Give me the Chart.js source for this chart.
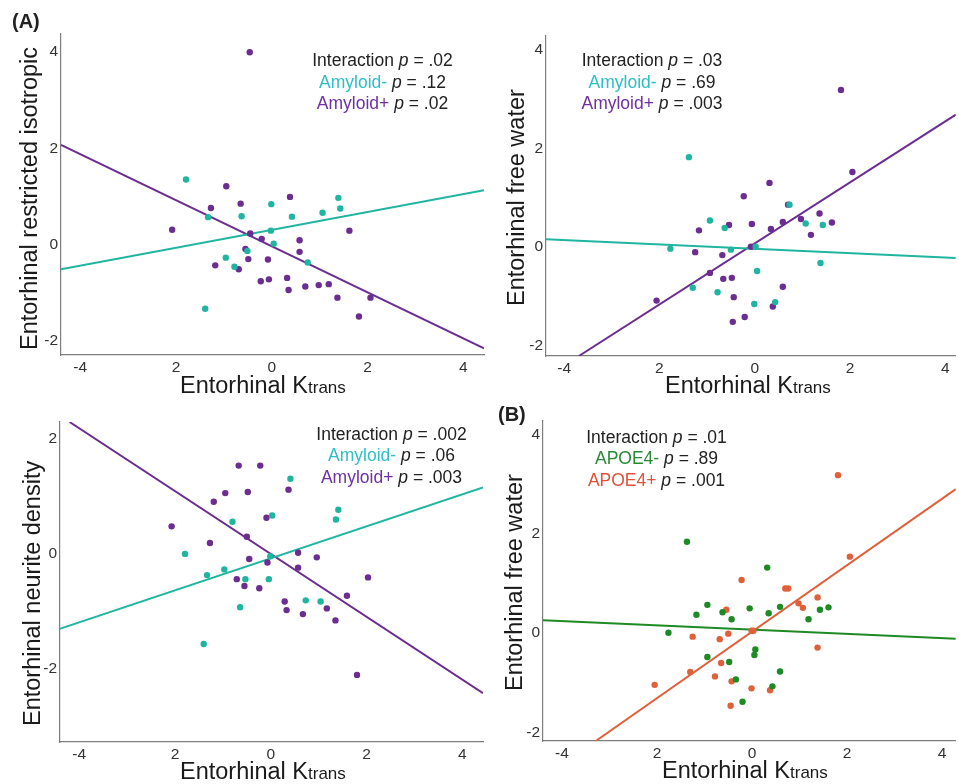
<!DOCTYPE html>
<html>
<head>
<meta charset="utf-8">
<script src="https://cdn.jsdelivr.net/npm/chart.js@4.4.1/dist/chart.umd.min.js"></script>
<style>
  html, body { margin: 0; padding: 0; }
  body { width: 959px; height: 784px; position: relative; background: #fff; overflow: hidden;
         font-family: "Liberation Sans", Arial, sans-serif; color: #222; }
  canvas { position: absolute; }
  .ann { position: absolute; transform: translateX(-50%); text-align: center; white-space: nowrap;
         font-size: 17.5px; line-height: 21.5px; color: #222; }
  .ann i { font-style: italic; }
  .ytitle { position: absolute; transform: rotate(-90deg); transform-origin: 0 0; white-space: nowrap;
            font-size: 23.5px; line-height: 23.5px; color: #1a1a1a; }
  .xtitle { position: absolute; white-space: nowrap; font-size: 23.5px; line-height: 23.5px; color: #1a1a1a; }
  .xtitle small { font-size: 17px; }
  .tag { position: absolute; font-weight: bold; font-size: 20px; line-height: 20px; color: #222; }
</style>
</head>
<body>
<div class="tag" style="left:12px;top:11px">(A)</div>
<div class="tag" style="left:498px;top:404px">(B)</div>

<div class="ann" style="left:382.5px;top:50px">
  <div>Interaction <i>p</i> = .02</div>
  <div><span style="color:#2ebec6">Amyloid-</span> <i>p</i> = .12</div>
  <div><span style="color:#7030a0">Amyloid+</span> <i>p</i> = .02</div>
</div>
<div class="ann" style="left:652px;top:50px">
  <div>Interaction <i>p</i> = .03</div>
  <div><span style="color:#2ebec6">Amyloid-</span> <i>p</i> = .69</div>
  <div><span style="color:#7030a0">Amyloid+</span> <i>p</i> = .003</div>
</div>
<div class="ann" style="left:391.5px;top:423.5px">
  <div>Interaction <i>p</i> = .002</div>
  <div><span style="color:#2ebec6">Amyloid-</span> <i>p</i> = .06</div>
  <div><span style="color:#7030a0">Amyloid+</span> <i>p</i> = .003</div>
</div>
<div class="ann" style="left:656.5px;top:426.5px">
  <div>Interaction <i>p</i> = .01</div>
  <div><span style="color:#2a8a34">APOE4-</span> <i>p</i> = .89</div>
  <div><span style="color:#e0523a">APOE4+</span> <i>p</i> = .001</div>
</div>

<script>
// ---------- shared tick data ----------
const xTickValues = [-4, -2, 0, 2, 4];
const xTickLabels = ['-4', '2', '0', '2', '4'];
const yTicksFull = [-2, 0, 2, 4];
const yTicksNeurite = [-2, 0, 2];

// ---------- Panel A1: restricted isotropic ----------
const isoAmyNeg = [[-1.79,1.35],[1.39,0.97],[-0.01,0.84],[1.06,0.66],[1.43,0.75],[-1.33,0.57],[-0.63,0.59],
  [0.42,0.58],[-0.02,0.29],[0.04,0.02],[-0.51,-0.13],[-0.96,-0.27],[-0.78,-0.46],[0.75,-0.37],[-1.39,-1.33]];
const isoAmyPos = [[-0.46,3.99],[-0.95,1.21],[-1.27,0.76],[-0.65,0.85],[0.38,0.99],[-2.08,0.31],[1.62,0.29],
  [-0.45,0.23],[-0.21,0.12],[0.58,0.09],[-0.55,-0.09],[0.58,-0.15],[-0.49,-0.30],[-0.08,-0.31],[-1.18,-0.43],
  [-0.69,-0.51],[-0.23,-0.76],[-0.06,-0.72],[0.32,-0.69],[0.35,-0.94],[0.70,-0.87],[0.98,-0.84],[1.19,-0.82],
  [1.37,-1.10],[2.06,-1.10],[1.82,-1.49]];
const isoFitNeg = [[-4.4,-0.51],[4.43,1.13]];
const isoFitPos = [[-4.4,2.07],[4.43,-2.15]];

// ---------- Panel A2: free water by amyloid ----------
const fwAmyNeg = [[-1.38,1.82],[-0.94,0.54],[-0.63,0.39],[0.73,0.86],[1.07,0.48],[1.43,0.45],[-1.77,-0.03],
  [-0.50,-0.05],[0.02,0.01],[1.38,-0.32],[0.05,-0.48],[-1.30,-0.82],[-0.78,-0.91],[-0.01,-1.15],[0.43,-1.11]];
const fwAmyPos = [[1.81,3.18],[2.05,1.52],[0.31,1.30],[-0.23,1.03],[0.70,0.86],[1.36,0.68],[0.97,0.57],
  [0.59,0.51],[1.62,0.50],[-0.54,0.45],[-0.06,0.47],[0.34,0.37],[-1.17,0.34],[1.18,0.25],[-0.08,0.01],
  [-1.25,-0.10],[-0.68,-0.16],[-0.94,-0.52],[-0.66,-0.64],[-0.48,-0.62],[0.59,-0.80],[-0.44,-1.01],
  [-2.06,-1.08],[0.38,-1.20],[-0.21,-1.41],[-0.46,-1.51]];
const fwAmyFitNeg = [[-4.38,0.16],[4.22,-0.22]];
const fwAmyFitPos = [[-3.69,-2.2],[4.22,2.68]];

// ---------- Panel A3: neurite density ----------
const ndAmyNeg = [[0.41,1.31],[1.41,0.77],[1.36,0.60],[0.03,0.67],[-0.80,0.56],[-1.79,0.0],[-0.01,-0.04],
  [-1.33,-0.37],[-0.97,-0.27],[-0.53,-0.44],[-0.04,-0.44],[0.73,-0.81],[1.04,-0.83],[-0.64,-0.93],[-1.40,-1.57]];
const ndAmyPos = [[-0.67,1.54],[-0.22,1.54],[0.37,1.12],[-0.48,1.08],[-0.95,1.06],[-1.19,0.91],[-0.09,0.63],
  [-2.07,0.48],[-0.50,0.30],[-1.27,0.19],[0.57,0.02],[0.96,-0.06],[-0.45,-0.09],[-0.07,-0.15],[0.57,-0.24],
  [2.03,-0.41],[-0.71,-0.44],[-0.55,-0.56],[-0.24,-0.60],[1.59,-0.73],[0.29,-0.83],[0.33,-0.98],[1.17,-0.95],
  [0.67,-1.05],[1.35,-1.16],[1.80,-2.11]];
const ndFitNeg = [[-4.45,-1.32],[4.43,1.16]];
const ndFitPos = [[-4.2,2.30],[4.43,-2.43]];

// ---------- Panel B: free water by APOE4 ----------
const fwApoeNeg = [[-1.37,1.84],[0.32,1.32],[-0.94,0.57],[-1.17,0.37],[-0.62,0.42],[-0.05,0.50],[0.59,0.53],
  [0.35,0.40],[-0.43,0.28],[1.19,0.28],[1.43,0.47],[1.61,0.52],[-1.76,0.01],[0.07,-0.33],[0.05,-0.44],
  [-0.94,-0.48],[-0.48,-0.58],[0.59,-0.77],[-0.34,-0.93],[0.43,-1.07],[-0.20,-1.38]];
const fwApoePos = [[1.81,3.18],[2.06,1.54],[-0.22,1.07],[0.70,0.90],[0.76,0.90],[1.38,0.72],[0.98,0.60],
  [1.07,0.51],[-0.54,0.47],[-0.50,-0.01],[-0.01,0.05],[0.03,0.05],[-1.25,-0.07],[-0.68,-0.12],[1.38,-0.29],
  [-0.65,-0.60],[-1.30,-0.78],[-0.78,-0.87],[-0.43,-0.97],[-2.05,-1.04],[-0.01,-1.11],[0.38,-1.15],[-0.45,-1.46]];
const fwApoeFitNeg = [[-4.40,0.26],[4.29,-0.11]];
const fwApoeFitPos = [[-3.29,-2.17],[4.29,2.90]];

// ---------- colours ----------
const TEAL = '#1fb5a0', PURPLE = '#6b2d8f', GREEN = '#1e8a24', ORANGE = '#e0603a';

// ---------- layout ----------
const panels = [
  { left: 0, top: 0, w: 490, h: 380, yW: 61, padTop: 34, padRight: 6, xH: 25,
    x: [-4.4, 4.43], y: [-2.29, 4.37], yTicks: yTicksFull,
    groups: [[isoAmyNeg, isoFitNeg, TEAL], [isoAmyPos, isoFitPos, PURPLE]],
    yTitle: 'Entorhinal restricted isotropic', yt: [17.8, 350], xt: [180, 374] },
  { left: 480, top: 0, w: 479, h: 380, yW: 66, padTop: 36, padRight: 0, xH: 24,
    x: [-4.38, 4.22], y: [-2.2, 4.27], yTicks: yTicksFull,
    groups: [[fwAmyNeg, fwAmyFitNeg, TEAL], [fwAmyPos, fwAmyFitPos, PURPLE]],
    yTitle: 'Entorhinal free water', yt: [505, 306], xt: [665, 374] },
  { left: 0, top: 390, w: 490, h: 394, yW: 60, padTop: 32, padRight: 7, xH: 42,
    x: [-4.4, 4.43], y: [-3.28, 2.30], yTicks: yTicksNeurite,
    groups: [[ndAmyNeg, ndFitNeg, TEAL], [ndAmyPos, ndFitPos, PURPLE]],
    yTitle: 'Entorhinal neurite density', yt: [20.8, 726], xt: [180, 759.5] },
  { left: 480, top: 390, w: 479, h: 394, yW: 63, padTop: 31, padRight: 0, xH: 43,
    x: [-4.40, 4.29], y: [-2.17, 4.27], yTicks: yTicksFull,
    groups: [[fwApoeNeg, fwApoeFitNeg, GREEN], [fwApoePos, fwApoeFitPos, ORANGE]],
    yTitle: 'Entorhinal free water', yt: [502.8, 691], xt: [662, 758.5] }
];

const tickFont = { family: '"Liberation Sans", Arial, sans-serif', size: 15.5 };
const toXY = arr => arr.map(p => ({ x: p[0], y: p[1] }));

panels.forEach(p => {
  const cv = document.createElement('canvas');
  cv.width = p.w; cv.height = p.h;
  cv.style.left = p.left + 'px'; cv.style.top = p.top + 'px';
  cv.style.width = p.w + 'px'; cv.style.height = p.h + 'px';
  document.body.insertBefore(cv, document.body.firstChild);

  const datasets = [];
  p.groups.forEach(g => datasets.push({
    data: toXY(g[0]), backgroundColor: g[2], borderColor: g[2],
    pointRadius: 3.2, pointBorderWidth: 0, pointHoverRadius: 3.2, order: 0
  }));
  p.groups.forEach(g => datasets.push({
    data: toXY(g[1]), showLine: true, borderColor: g[2], backgroundColor: g[2],
    borderWidth: 2, pointRadius: 0, pointHoverRadius: 0, fill: false, order: 1
  }));

  new Chart(cv, {
    type: 'scatter',
    data: { datasets },
    options: {
      responsive: false, animation: false, devicePixelRatio: 1,
      events: [],
      layout: { padding: { top: p.padTop, right: p.padRight, left: 0, bottom: 0 } },
      plugins: { legend: { display: false }, tooltip: { enabled: false } },
      scales: {
        x: {
          type: 'linear', min: p.x[0], max: p.x[1],
          grid: { display: true, drawOnChartArea: false, drawTicks: false },
          border: { display: true, color: '#7d7d7d', width: 1.2 },
          ticks: { padding: 3, font: tickFont, color: '#333', maxRotation: 0,
                   callback: v => xTickLabels[xTickValues.indexOf(v)] },
          afterBuildTicks: s => { s.ticks = xTickValues.map(v => ({ value: v })); },
          afterFit: s => { s.height = p.xH; }
        },
        y: {
          type: 'linear', min: p.y[0], max: p.y[1],
          grid: { display: true, drawOnChartArea: false, drawTicks: false },
          border: { display: true, color: '#7d7d7d', width: 1.2 },
          ticks: { padding: 3, font: tickFont, color: '#333', callback: v => String(v) },
          afterBuildTicks: s => { s.ticks = p.yTicks.map(v => ({ value: v })); },
          afterFit: s => { s.width = p.yW; }
        }
      }
    }
  });

  const yt = document.createElement('div');
  yt.className = 'ytitle';
  yt.textContent = p.yTitle;
  yt.style.left = p.yt[0] + 'px';
  yt.style.top = p.yt[1] + 'px';
  document.body.appendChild(yt);

  const xt = document.createElement('div');
  xt.className = 'xtitle';
  xt.innerHTML = 'Entorhinal K<small>trans</small>';
  xt.style.left = p.xt[0] + 'px';
  xt.style.top = p.xt[1] + 'px';
  document.body.appendChild(xt);
});
</script>
</body>
</html>
